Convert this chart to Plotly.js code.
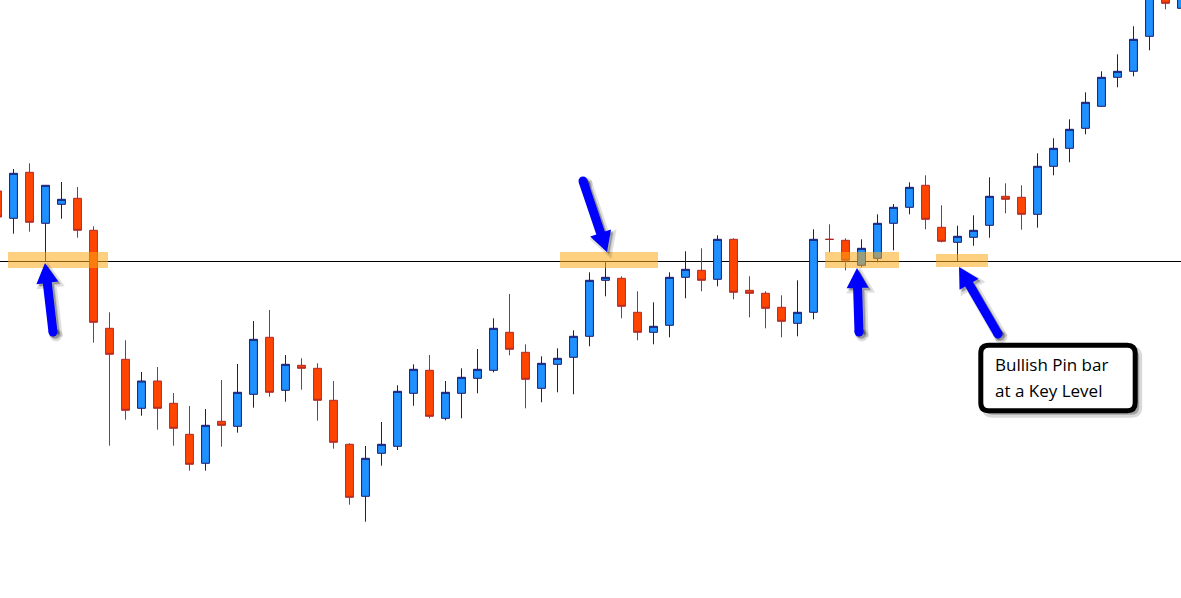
<!DOCTYPE html>
<html><head><meta charset="utf-8">
<script src="https://cdn.plot.ly/plotly-3.0.1.min.js"></script>
<style>html,body{margin:0;padding:0;background:#fff;overflow:hidden}#chart{width:1181px;height:598px}</style>
</head><body><div id="chart"></div>
<script>
// bar index (one candle per period)
const bars = Array.from({length: 75}, (_, i) => i);
const openP = [409,381.7,427.7,376.7,395.7,401.7,369.7,271.7,240.7,191.7,
  219,196.7,165.7,136.7,178.7,173.7,205.7,262.7,209.7,234.7,
  231.7,199.7,155.7,103.7,146.7,153.7,206.7,229.7,181.7,206.7,
  221.7,229.7,267.7,247.7,211.7,235.7,242.7,263.7,319.7,321.7,
  287.7,267.7,274.7,322.7,329.7,320.7,360.7,309.7,306.7,292.7,
  276.7,287.7,360.9,359.7,334.7,341.7,376.7,392.7,414.7,372.7,
  357.7,362.7,374.7,403.7,402.7,385.7,433.7,451.7,471.7,493.7,
  522.7,528.7,563.7,608,591.7];
const highP = [415,431,436.7,414.7,418,413,373.7,287.7,259.7,228,
  233,207,194,191,220,236,279,290,245,241.7,
  236.7,219,156.7,154,178,214.7,235.7,245,219,231.7,
  251,281.7,306,255.7,243.7,251.7,269.7,327.7,338.7,323.7,
  308.7,297.7,327.7,348.7,351.7,364.7,361.7,323.7,308.7,304.7,
  319.7,370.7,375.7,361.7,360.7,385.7,396,417.7,424.7,394.7,
  374.3,384.7,422.7,416.7,414.7,446.7,461.7,480.7,507.7,528.7,
  545.7,573.7,612,614,612];
const lowP = [378,366.3,368.3,339,381.3,362.3,257.3,154.3,180.3,184.3,
  170.3,154.3,129.3,129.3,153.3,167.3,192.3,203.3,198.3,210.3,
  179.3,151.3,95.3,78.3,134.3,150,194.3,181.7,179.7,181.7,
  206.7,227.7,244.7,191.7,197.7,207.7,205.7,253.7,303.7,281.7,
  259.7,255.7,262.7,301.7,308.7,313.7,300.7,282.7,271.7,262.7,
  263.7,280.7,347.7,329.7,332.7,337.7,349.7,385.7,370.7,357.7,
  339,354.3,362.3,386.7,370.3,372.3,424.7,437.7,465.7,493.7,
  512.7,523.7,549.7,590.7,588];
const closeP = [383,426.7,377.7,414.7,400.7,369.7,277.7,245.7,189.7,219,
  191.7,171.7,135.7,174.7,174.7,207.7,260.7,207.7,235.7,231.7,
  199.7,157.7,102.7,141.7,155.7,208.7,230.7,183.7,207.7,222.7,
  230.7,271.7,250.7,220.7,236.7,241.7,263.7,319.7,322.7,293.7,
  267.7,273.7,322.7,330.7,319.7,360.7,307.7,306.7,291.7,278.7,
  287.7,360.7,360.5,339.7,351.7,376.7,392.7,412.7,380.7,358.7,
  363.7,369.7,403.7,400.7,385.7,433.7,451.7,470.7,497.7,522.7,
  528.7,560.7,606,596.7,605];
const keyLevel = 338.5;
const noteLines = ['Bullish Pin bar', 'at a Key Level'];

// ---- layout helpers (pixel -> paper) ----
const W = 1181, H = 598;
const fx = x => x / W;
const fy = y => 1 - y / H;
const P = (x, y) => fx(x).toFixed(5) + ',' + fy(y).toFixed(5);

function arrowShapes(tx, ty, hx, hy, color, dx, dy, extra) {
  tx += dx; ty += dy; hx += dx; hy += dy;
  const sw = 9, hw = 22, hl = 20;
  const L = Math.hypot(hx - tx, hy - ty);
  const ux = (hx - tx) / L, uy = (hy - ty) / L;
  const nx = -uy, ny = ux;
  const bx = hx - ux * hl, by = hy - uy * hl;
  const pts = [
    [tx + nx * sw / 2, ty + ny * sw / 2],
    [bx + nx * sw / 2, by + ny * sw / 2],
    [bx + nx * hw / 2, by + ny * hw / 2],
    [hx, hy],
    [bx - nx * hw / 2, by - ny * hw / 2],
    [bx - nx * sw / 2, by - ny * sw / 2],
    [tx - nx * sw / 2, ty - ny * sw / 2]
  ];
  const path = 'M' + pts.map(p => P(p[0], p[1])).join('L') + 'Z';
  const lw = extra || 0;
  return [
    {type: 'path', xref: 'paper', yref: 'paper', path: path, fillcolor: color,
     line: {width: lw, color: color}, layer: 'above'},
    {type: 'circle', xref: 'paper', yref: 'paper',
     x0: fx(tx - sw / 2), x1: fx(tx + sw / 2), y0: fy(ty + sw / 2), y1: fy(ty - sw / 2),
     fillcolor: color, line: {width: lw, color: color}, layer: 'above'}
  ];
}

function roundRect(x0, y0, x1, y1, r) {
  return 'M' + P(x0 + r, y0) + 'L' + P(x1 - r, y0) + 'Q' + P(x1, y0) + ' ' + P(x1, y0 + r) +
    'L' + P(x1, y1 - r) + 'Q' + P(x1, y1) + ' ' + P(x1 - r, y1) +
    'L' + P(x0 + r, y1) + 'Q' + P(x0, y1) + ' ' + P(x0, y1 - r) +
    'L' + P(x0, y0 + r) + 'Q' + P(x0, y0) + ' ' + P(x0 + r, y0) + 'Z';
}

const zoneFill = 'rgba(251,170,24,0.55)';
const zones = [[8, 252, 108, 268], [560, 252, 658, 268], [825, 252, 899, 268], [936, 254, 988, 267]];
const arrows = [[53, 332, 45, 263], [583, 181, 607, 252], [859, 332, 857, 268], [998, 334, 959, 267]];

const shapes = [];
shapes.push({type: 'line', xref: 'paper', yref: 'y', x0: 0, x1: 1, y0: keyLevel, y1: keyLevel,
  line: {color: '#000000', width: 1}, layer: 'below'});
zones.forEach(z => shapes.push({type: 'rect', xref: 'paper', yref: 'paper',
  x0: fx(z[0]), x1: fx(z[2]), y0: fy(z[3]), y1: fy(z[1]),
  fillcolor: zoneFill, line: {width: 0}, layer: 'above'}));
arrows.forEach(a => {
  shapes.push(...arrowShapes(a[0], a[1], a[2], a[3], 'rgba(0,0,0,0.12)', 3, 3, 4));
  shapes.push(...arrowShapes(a[0], a[1], a[2], a[3], 'rgba(0,0,0,0.25)', 2, 2, 0));
  shapes.push(...arrowShapes(a[0], a[1], a[2], a[3], '#0000ff', 0, 0, 0));
});
// note box with shadow
shapes.push({type: 'path', xref: 'paper', yref: 'paper', path: roundRect(984.8, 349.2, 1139.2, 414.8, 8),
  fillcolor: 'rgba(0,0,0,0.25)', line: {color: 'rgba(0,0,0,0.15)', width: 6}, layer: 'above'});
shapes.push({type: 'path', xref: 'paper', yref: 'paper', path: roundRect(980.8, 345.2, 1135.2, 410.8, 8),
  fillcolor: '#ffffff', line: {color: '#000000', width: 5}, layer: 'above'});

const annotations = noteLines.map((t, i) => ({
  xref: 'paper', yref: 'paper', x: fx(993), y: fy(364.5 + i * 26),
  xanchor: 'left', yanchor: 'middle', showarrow: false, text: t, align: 'left',
  font: {family: 'Open Sans, sans-serif', size: 17, color: '#000000'}
}));

const trace = {
  type: 'candlestick', x: bars, open: openP, high: highP, low: lowP, close: closeP,
  increasing: {line: {color: '#1a1a6e', width: 1}, fillcolor: '#1e90ff'},
  decreasing: {line: {color: '#b3282a', width: 1}, fillcolor: '#ff4500'},
  whiskerwidth: 0, hoverinfo: 'skip'
};

const layout = {
  width: W, height: H, margin: {l: 0, r: 0, t: 0, b: 0, pad: 0},
  paper_bgcolor: '#ffffff', plot_bgcolor: '#ffffff', showlegend: false,
  xaxis: {visible: false, range: [0.15625, 73.96875], rangeslider: {visible: false}, fixedrange: true},
  yaxis: {visible: false, range: [2, 600], fixedrange: true},
  shapes: shapes, annotations: annotations
};

Plotly.newPlot('chart', [trace], layout, {staticPlot: true, displayModeBar: false});
</script></body></html>
